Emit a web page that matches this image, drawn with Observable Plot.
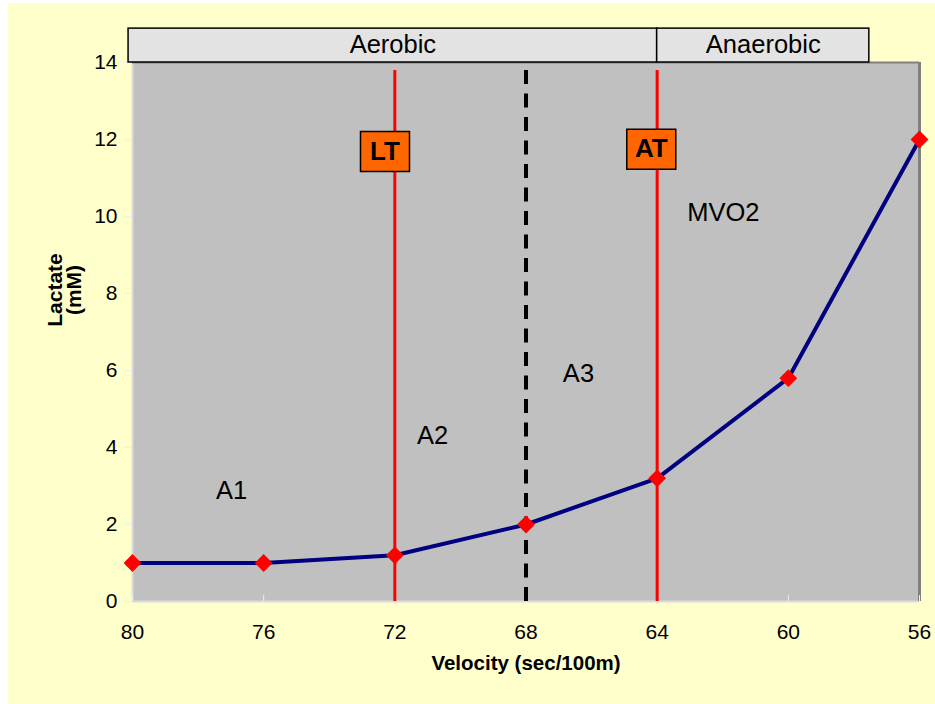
<!DOCTYPE html>
<html>
<head>
<meta charset="utf-8">
<script src="https://cdn.jsdelivr.net/npm/d3@7"></script>
<script src="https://cdn.jsdelivr.net/npm/@observablehq/plot@0.6"></script>
<style>
  body { margin: 0; background: #ffffff; }
  #chart svg { display: block; margin: 3px 0 0 8px; }
</style>
</head>
<body>
<div id="chart"></div>
<script>
// ---- data ----
const velocity = [80, 76, 72, 68, 64, 60, 56];
const lactate = [1, 1, 1.2, 2, 3.2, 5.8, 12];
const xTicks = [80, 76, 72, 68, 64, 60, 56];
const yTicks = [0, 2, 4, 6, 8, 10, 12, 14];

const zoneLabels = ["Aerobic", "Anaerobic"];
const zoneFrom = [80.12, 64];
const zoneTo = [64, 57.53];

const thresholdLabels = ["LT", "AT"];
const thresholdX = [72, 64];
const thresholdBoxX = [72.3, 64.18];
const thresholdBoxY = [11.69, 11.75];
const midLineX = [68];

const regionLabels = ["A1", "A2", "A3", "MVO2"];
const regionX = [76.98, 70.85, 66.4, 61.98];
const regionY = [2.88, 4.31, 5.92, 10.1];

const xTitle = "Velocity (sec/100m)";
const yTitle = "Lactate\n(mM)";

// ---- tables ----
const points = velocity.map((v, i) => ({v, l: lactate[i]}));
const zones = zoneLabels.map((label, i) => ({label, from: zoneFrom[i], to: zoneTo[i]}));
const thresholds = thresholdLabels.map((label, i) => ({label, x: thresholdX[i], bx: thresholdBoxX[i], by: thresholdBoxY[i]}));
const regions = regionLabels.map((label, i) => ({label, x: regionX[i], y: regionY[i]}));

const yTop = 14;
const boxSymbol = {draw(ctx) { ctx.rect(-24.5, -20, 49, 40); }};

const chart = Plot.plot({
  width: 927,
  height: 701,
  marginLeft: 124,
  marginRight: 16,
  marginTop: 59,
  marginBottom: 103,
  x: {domain: [80, 56], axis: null},
  y: {domain: [0, 14], axis: null},
  style: {
    background: "#FFFFCC",
    fontFamily: "'Liberation Sans', Arial, sans-serif",
    fontSize: "20px",
    color: "#000",
    overflow: "visible"
  },
  marks: [
    Plot.frame({fill: "#C0C0C0", stroke: null}),
    Plot.ruleX([80], {stroke: "#dcdcdc", strokeWidth: 2}),
    Plot.ruleY([0], {stroke: "#dcdcdc", strokeWidth: 2}),
    Plot.ruleX([56], {stroke: "#808080", strokeWidth: 3}),
    Plot.ruleY([14], {stroke: "#808080", strokeWidth: 2}),
    Plot.axisY(yTicks, {tickSize: 7, tickFormat: () => "", stroke: "#eeeeee"}),
    Plot.axisX(xTicks, {tickSize: -6, tickFormat: () => "", stroke: "#eeeeee"}),
    Plot.axisY(yTicks, {tickSize: 0, tickPadding: 15, fontSize: 21, fill: "#000"}),
    Plot.axisX(xTicks, {tickSize: 0, tickPadding: 23, fontSize: 21, fill: "#000"}),
    Plot.ruleX(thresholdX, {x: d => d, y1: 0, y2: 13.79, stroke: "#FF0000", strokeWidth: 3}),
    Plot.ruleX(midLineX, {x: d => d, y1: 0, y2: 13.9, stroke: "#000", strokeWidth: 4, strokeDasharray: "14,9.5"}),
    Plot.line(points, {x: "v", y: "l", stroke: "#000080", strokeWidth: 4}),
    Plot.dot(points, {x: "v", y: "l", symbol: "diamond2", r: 8, fill: "#FF0000", stroke: null}),
    Plot.rect(zones, {x1: "from", x2: "to", y1: yTop, y2: yTop + 0.88, fill: "#E3E3E3", stroke: "#000", strokeWidth: 1.5}),
    Plot.text(zones, {x: d => (d.from + d.to) / 2, y: yTop + 0.46, text: "label", fontSize: 25.5, fill: "#000"}),
    Plot.text(regions, {x: "x", y: "y", text: "label", fontSize: 25.5, fill: "#000"}),
    Plot.dot(thresholds, {x: "bx", y: "by", symbol: boxSymbol, fill: "#FF6600", stroke: "#000", strokeWidth: 1.5}),
    Plot.text(thresholds, {x: "bx", y: "by", text: "label", fontSize: 26, fontWeight: "bold", fill: "#000"}),
    Plot.text([xTitle], {frameAnchor: "bottom", dy: 68, text: d => d, fontSize: 20.5, fontWeight: "bold", fill: "#000"}),
    Plot.text([yTitle], {frameAnchor: "left", dx: -67, dy: -42, rotate: -90, textAnchor: "middle", text: d => d, fontSize: 21, lineHeight: 0.9, fontWeight: "bold", fill: "#000"})
  ]
});
document.getElementById("chart").appendChild(chart);
</script>
</body>
</html>
